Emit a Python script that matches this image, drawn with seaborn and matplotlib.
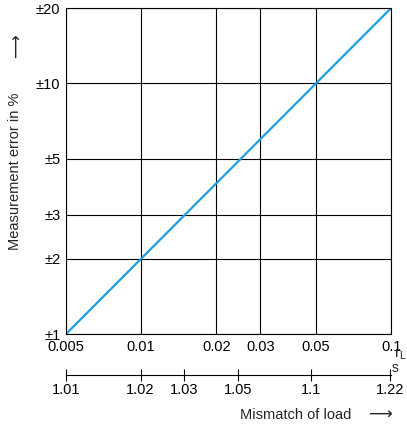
import numpy as np
import matplotlib
matplotlib.use("Agg")
import matplotlib.pyplot as plt
import seaborn as sns

# data
r_line = [0.005, 0.1]
err_line = [1, 20]
r_ticks = [0.005, 0.01, 0.02, 0.03, 0.05, 0.1]
r_labels = ["0.005", "0.01", "0.02", "0.03", "0.05", "0.1"]
err_ticks = [1, 2, 3, 5, 10, 20]
err_labels = ["±1", "±2", "±3", "±5", "±10", "±20"]
s_values = [1.01, 1.02, 1.03, 1.05, 1.1, 1.22]
s_labels = ["1.01", "1.02", "1.03", "1.05", "1.1", "1.22"]
s_r = [(s - 1) / (s + 1) for s in s_values]

sns.set_style("white")
plt.rcParams['font.family'] = ['Liberation Sans', 'DejaVu Sans']
plt.rcParams['font.size'] = 10.5

fig = plt.figure(figsize=(4.07, 4.25), dpi=100)
ax = fig.add_axes([0.162, 0.214, 0.799, 0.767])
sns.lineplot(x=r_line, y=err_line, ax=ax, color="#1a9fe0", linewidth=1.6)
ax.set_xscale("log")
ax.set_yscale("log")
ax.set_xlim(0.005, 0.1)
ax.set_ylim(1, 20)
ax.set_xticks(r_ticks)
ax.set_xticklabels(r_labels)
ax.set_yticks(err_ticks)
ax.set_yticklabels(err_labels)
ax.minorticks_off()
ax.grid(True, color="black", linewidth=0.8)
for sp in ax.spines.values():
    sp.set_color("black")
    sp.set_linewidth(0.8)
ax.tick_params(axis="both", length=0, pad=4, colors="black")
ax.set_ylabel("Measurement error in %", labelpad=6)
ax.yaxis.set_label_coords(-0.135, 0.5)

# secondary scale for mismatch
ax2 = fig.add_axes([0.162, 0.118, 0.799, 0.0001])
ax2.set_xscale("log")
ax2.set_xlim(0.005, 0.1)
ax2.set_xticks(s_r)
ax2.set_xticklabels(s_labels)
ax2.minorticks_off()
ax2.set_yticks([])
for k in ["top", "left", "right"]:
    ax2.spines[k].set_visible(False)
ax2.spines["bottom"].set_linewidth(0.8)
ax2.spines["bottom"].set_color("black")
ax2.tick_params(axis="x", direction="inout", length=8, width=0.8, pad=2,
                color="black", labelcolor="black", bottom=True)

fig.text(0.968, 0.16, "r$_\\mathregular{L}$", fontsize=11, ha="left")
fig.text(0.963, 0.125, "s", fontsize=10, ha="left")
fig.text(0.59, 0.013, "Mismatch of load", fontsize=10.5)
fig.text(0.905, 0.013, "⟶", fontsize=12)
fig.text(0.025, 0.87, "⟶", fontsize=12, rotation=90)

fig.savefig("out.png", dpi=100)
